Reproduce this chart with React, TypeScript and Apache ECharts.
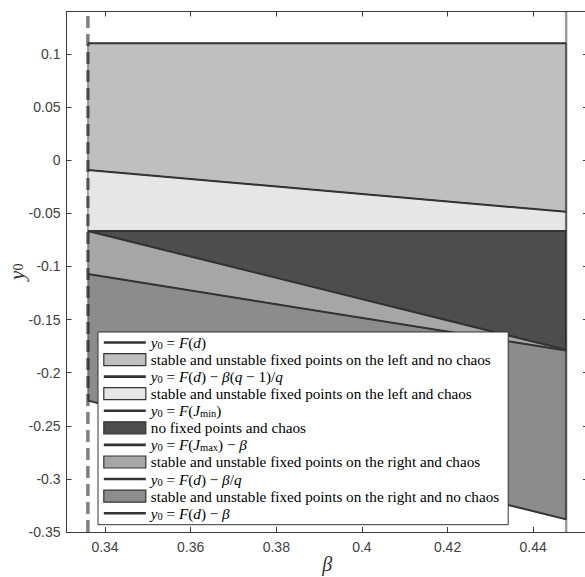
import React, { useEffect, useRef } from "react";
import * as echarts from "echarts";

// β at the two ends of the studied interval
const betaRange = [0.336, 0.4477];
// boundary lines (value at betaRange[0], value at betaRange[1])
const yFd = [0.11, 0.11];
const yFdBetaQm1 = [-0.0092, -0.0486];
const yFJmin = [-0.0667, -0.0667];
const yFJmaxBeta = [-0.0667, -0.1785];
const yFdBetaQ = [-0.1072, -0.1792];
const yFdBeta = [-0.2263, -0.3381];

const xTicks = [0.34, 0.36, 0.38, 0.4, 0.42, 0.44];
const yTicks = [-0.35, -0.3, -0.25, -0.2, -0.15, -0.1, -0.05, 0, 0.05, 0.1];
const xLimits = [0.331, 0.4528];
const yLimits = [-0.35, 0.14];

const lineNames = [
  "y0 = F(d)",
  "y0 = F(d) − β(q − 1)/q",
  "y0 = F(Jmin)",
  "y0 = F(Jmax) − β",
  "y0 = F(d) − β/q",
  "y0 = F(d) − β",
];
const lineValues = [yFd, yFdBetaQm1, yFJmin, yFJmaxBeta, yFdBetaQ, yFdBeta];

const regionNames = [
  "stable and unstable fixed points on the left and no chaos",
  "stable and unstable fixed points on the left and chaos",
  "no fixed points and chaos",
  "stable and unstable fixed points on the right and chaos",
  "stable and unstable fixed points on the right and no chaos",
];
const regionBounds = [
  [yFd, yFdBetaQm1],
  [yFdBetaQm1, yFJmin],
  [yFJmin, yFJmaxBeta],
  [yFJmaxBeta, yFdBetaQ],
  [yFdBetaQ, yFdBeta],
];
const regionColors = ["#bfbfbf", "#e6e6e6", "#4d4d4d", "#a6a6a6", "#8c8c8c"];

const richLabels: Record<string, string> = {
  [lineNames[0]]: "{i|y}{s|0}{r| = }{i|F}{r|(}{i|d}{r|)}",
  [lineNames[1]]: "{i|y}{s|0}{r| = }{i|F}{r|(}{i|d}{r|) − }{i|β}{r|(}{i|q}{r| − 1)/}{i|q}",
  [lineNames[2]]: "{i|y}{s|0}{r| = }{i|F}{r|(}{i|J}{ss|min}{r|)}",
  [lineNames[3]]: "{i|y}{s|0}{r| = }{i|F}{r|(}{i|J}{ss|max}{r|) − }{i|β}",
  [lineNames[4]]: "{i|y}{s|0}{r| = }{i|F}{r|(}{i|d}{r|) − }{i|β}{r|/}{i|q}",
  [lineNames[5]]: "{i|y}{s|0}{r| = }{i|F}{r|(}{i|d}{r|) − }{i|β}",
};

const SERIF = "'Liberation Serif', 'DejaVu Serif', serif";
const SANS = "'Liberation Sans', Arial, Helvetica, sans-serif";
const AXIS_COLOR = "#3a3a3a";

export default function App() {
  const ref = useRef<HTMLDivElement>(null);

  useEffect(() => {
    if (!ref.current) return;
    const chart = echarts.init(ref.current, undefined, { renderer: "svg" });

    const regionSeries = regionNames.map((name, k) => {
      const [top, bottom] = regionBounds[k];
      return {
        type: "custom",
        name,
        z: 1,
        itemStyle: { color: regionColors[k], borderColor: "#333", borderWidth: 1 },
        data: betaRange.map((b, i) => [b, top[i], bottom[i]]),
        encode: { x: 0, y: [1, 2] },
        renderItem: (params: any, api: any) => {
          if (params.dataIndex !== 0) return null;
          const pts = [
            api.coord([betaRange[0], top[0]]),
            api.coord([betaRange[1], top[1]]),
            api.coord([betaRange[1], bottom[1]]),
            api.coord([betaRange[0], bottom[0]]),
          ];
          return {
            type: "polygon",
            shape: { points: pts },
            style: { fill: regionColors[k], stroke: "#333", lineWidth: 0.8 },
          };
        },
      };
    });

    const verticalSeries = [
      {
        type: "line",
        name: "betaMin",
        z: 2,
        symbol: "none",
        silent: true,
        data: [
          [betaRange[0], yLimits[0]],
          [betaRange[0], yLimits[1]],
        ],
        lineStyle: { color: "rgba(0,0,0,0.5)", width: 3.5, type: [12, 6] },
      },
      {
        type: "line",
        name: "betaMax",
        z: 2,
        symbol: "none",
        silent: true,
        data: [
          [betaRange[1], yLimits[0]],
          [betaRange[1], yLimits[1]],
        ],
        lineStyle: { color: "rgba(0,0,0,0.38)", width: 2.5 },
      },
    ];

    const lineSeries = lineNames.map((name, k) => ({
      type: "line",
      name,
      z: 3,
      symbol: "none",
      color: "#333",
      data: betaRange.map((b, i) => [b, lineValues[k][i]]),
      lineStyle: { color: "#333", width: 2 },
    }));

    const legendOrder: any[] = [];
    for (let k = 0; k < lineNames.length; k++) {
      legendOrder.push({
        name: lineNames[k],
        itemStyle: { color: "rgba(0,0,0,0)", borderWidth: 0, opacity: 0 },
        lineStyle: { color: "#333", width: 2.6 },
      });
      if (k < regionNames.length) {
        legendOrder.push({
          name: regionNames[k],
          icon: "rect",
          itemStyle: { color: regionColors[k], borderColor: "#333", borderWidth: 1.2 },
        });
      }
    }

    const baseText = { fontFamily: SERIF, fontSize: 15.2, lineHeight: 17, color: "#000" };

    const option: any = {
      animation: false,
      grid: { left: 66.5, right: -3, top: 11.5, bottom: 45, outerBoundsMode: "none", containLabel: false },
      xAxis: [
        {
          type: "value",
          min: xLimits[0],
          max: xLimits[1],
          position: "bottom",
          name: "β",
          nameLocation: "middle",
          nameGap: 22,
          nameMoveOverlap: false,
          nameTextStyle: { fontFamily: SERIF, fontStyle: "italic", fontSize: 20, lineHeight: 20, color: "#333" },
          axisLine: { show: true, onZero: false, lineStyle: { color: AXIS_COLOR, width: 1 } },
          axisTick: { show: true, inside: true, length: 5, customValues: xTicks, lineStyle: { color: AXIS_COLOR } },
          axisLabel: { customValues: xTicks, margin: 8, fontFamily: SANS, fontSize: 14, color: "#404040" },
          splitLine: { show: false },
        },
        {
          type: "value",
          min: xLimits[0],
          max: xLimits[1],
          position: "top",
          axisLine: { show: true, onZero: false, lineStyle: { color: AXIS_COLOR, width: 1 } },
          axisTick: { show: true, inside: true, length: 5, customValues: xTicks, lineStyle: { color: AXIS_COLOR } },
          axisLabel: { show: false },
          splitLine: { show: false },
        },
      ],
      yAxis: [
        {
          type: "value",
          min: yLimits[0],
          max: yLimits[1],
          position: "left",
          name: "{i|y}{s|0}",
          nameLocation: "middle",
          nameGap: 41,
          nameMoveOverlap: false,
          nameRotate: 90,
          nameTextStyle: {
            color: "#333",
            lineHeight: 18,
            rich: {
              i: { fontFamily: SERIF, fontStyle: "italic", fontSize: 21, lineHeight: 18, color: "#333" },
              s: { fontFamily: SERIF, fontSize: 14, lineHeight: 12, verticalAlign: "bottom", color: "#333" },
            },
          },
          axisLine: { show: true, onZero: false, lineStyle: { color: AXIS_COLOR, width: 1 } },
          axisTick: { show: true, inside: true, length: 5, customValues: yTicks, lineStyle: { color: AXIS_COLOR } },
          axisLabel: { customValues: yTicks, margin: 6, fontFamily: SANS, fontSize: 14, color: "#404040" },
          splitLine: { show: false },
        },
        {
          type: "value",
          min: yLimits[0],
          max: yLimits[1],
          position: "right",
          axisLine: { show: true, onZero: false, lineStyle: { color: AXIS_COLOR, width: 1 } },
          axisTick: { show: true, inside: true, length: 5, customValues: yTicks, lineStyle: { color: AXIS_COLOR } },
          axisLabel: { show: false },
          splitLine: { show: false },
        },
      ],
      legend: {
        data: legendOrder,
        orient: "vertical",
        left: 98,
        top: 332,
        itemWidth: 42,
        itemHeight: 12,
        itemGap: 0.07,
        padding: [2, 9, 3, 4.5],
        backgroundColor: "#fff",
        borderColor: "#333",
        borderWidth: 1,
        borderRadius: 0,
        selectedMode: false,
        formatter: (name: string) => richLabels[name] ?? name,
        textStyle: {
          ...baseText,
          rich: {
            r: { ...baseText },
            i: { ...baseText, fontStyle: "italic" },
            s: { fontFamily: SERIF, fontSize: 10.5, lineHeight: 11, verticalAlign: "bottom", color: "#000" },
            ss: { fontFamily: SERIF, fontSize: 10.5, lineHeight: 11, verticalAlign: "bottom", color: "#000" },
          },
        },
      },
      series: [...regionSeries, ...verticalSeries, ...lineSeries],
    };

    chart.setOption(option);
    return () => chart.dispose();
  }, []);

  return (
    <div
      ref={ref}
      style={{ position: "fixed", left: 0, top: 0, width: 585, height: 577, background: "#fff" }}
    />
  );
}
